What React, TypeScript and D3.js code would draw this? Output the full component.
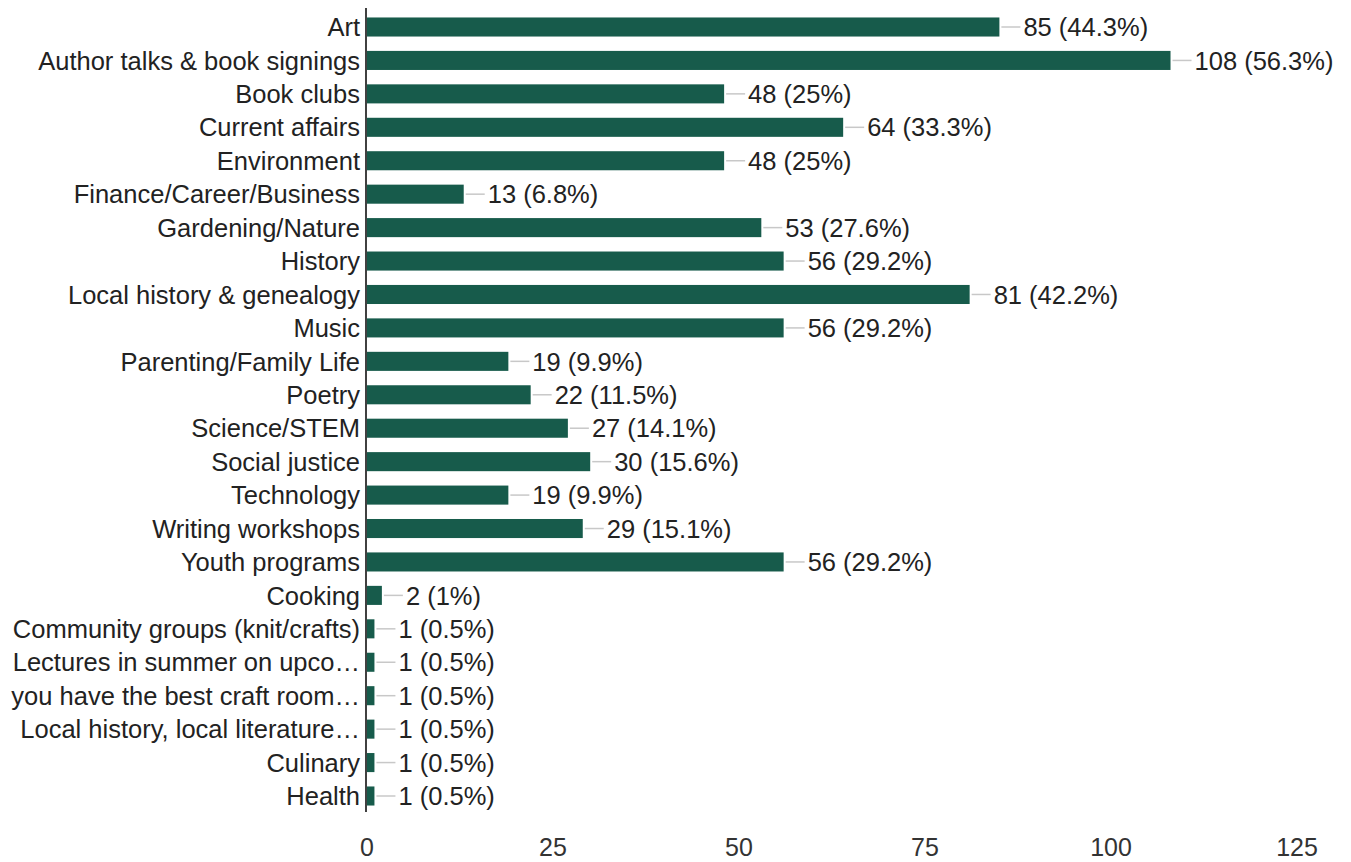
import React from "react";
import * as d3 from "d3";

const categories = [
  "Art",
  "Author talks & book signings",
  "Book clubs",
  "Current affairs",
  "Environment",
  "Finance/Career/Business",
  "Gardening/Nature",
  "History",
  "Local history & genealogy",
  "Music",
  "Parenting/Family Life",
  "Poetry",
  "Science/STEM",
  "Social justice",
  "Technology",
  "Writing workshops",
  "Youth programs",
  "Cooking",
  "Community groups (knit/crafts)",
  "Lectures in summer on upco…",
  "you have the best craft room…",
  "Local history, local literature…",
  "Culinary",
  "Health",
];

const counts = [85, 108, 48, 64, 48, 13, 53, 56, 81, 56, 19, 22, 27, 30, 19, 29, 56, 2, 1, 1, 1, 1, 1, 1];
const percents = ["44.3%", "56.3%", "25%", "33.3%", "25%", "6.8%", "27.6%", "29.2%", "42.2%", "29.2%", "9.9%", "11.5%", "14.1%", "15.6%", "9.9%", "15.1%", "29.2%", "1%", "0.5%", "0.5%", "0.5%", "0.5%", "0.5%", "0.5%"];
const ticks = [0, 25, 50, 75, 100, 125];

const W = 1351;
const H = 862;
const FONT = "'Liberation Sans', Arial, sans-serif";

export default function App() {
  const x = d3.scaleLinear().domain([0, 125]).range([367, 1297]);
  const y = d3
    .scaleBand<string>()
    .domain(categories)
    .range([27 - 33.43 / 2, 796 + 33.43 / 2])
    .paddingInner(0.43)
    .paddingOuter(0.215);
  const bh = y.bandwidth();

  return (
    <div style={{ position: "absolute", left: 0, top: 0 }}>
      <svg width={W} height={H} style={{ display: "block", background: "#fff" }}>
        {categories.map((c, i) => {
          const yc = (y(c) as number) + bh / 2;
          const xe = x(counts[i]);
          return (
            <g key={c}>
              <text
                x={360}
                y={yc}
                dy="0.36em"
                textAnchor="end"
                fontFamily={FONT}
                fontSize={25.5}
                fill="#222"
              >
                {c}
              </text>
              <rect x={x(0)} y={y(c)} width={xe - x(0)} height={bh} fill="#175b4b" />
              <line x1={xe + 2} x2={xe + 21} y1={yc} y2={yc} stroke="#c8c8c8" strokeWidth={1.5} />
              <text
                x={xe + 24}
                y={yc}
                dy="0.36em"
                fontFamily={FONT}
                fontSize={25.5}
                fill="#222"
              >
                {`${counts[i]} (${percents[i]})`}
              </text>
            </g>
          );
        })}
        <line x1={366} x2={366} y1={8} y2={812} stroke="#111" strokeWidth={1.6} />
        {ticks.map((t) => (
          <text
            key={t}
            x={x(t)}
            y={847}
            dy="0.36em"
            textAnchor="middle"
            fontFamily={FONT}
            fontSize={25}
            fill="#333"
          >
            {t}
          </text>
        ))}
      </svg>
    </div>
  );
}
